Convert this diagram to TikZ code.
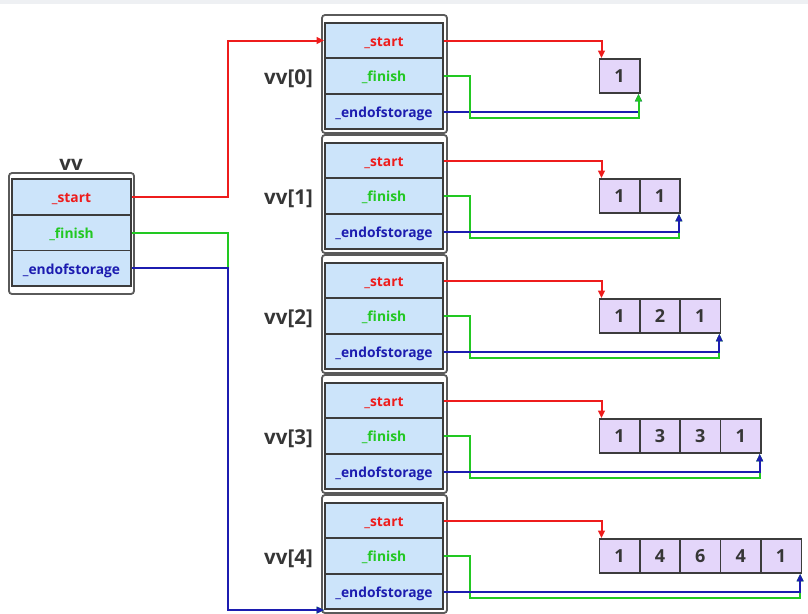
\documentclass[tikz,border=0pt]{standalone}
\usepackage{fontspec}
\setmainfont{Open Sans}
\usetikzlibrary{arrows.meta,calc}
\definecolor{topgray}{HTML}{EEF0F3}
\definecolor{cellblue}{HTML}{CCE4FA}
\definecolor{arrfill}{HTML}{E4D6FA}
\definecolor{celldark}{HTML}{3C3C3C}
\definecolor{outergray}{HTML}{5A5A5A}
\definecolor{cred}{HTML}{EE1C1C}
\definecolor{cgreen}{HTML}{22C822}
\definecolor{cblue}{HTML}{1C1CB0}
\definecolor{txtgray}{HTML}{363636}
\begin{document}
\begin{tikzpicture}[x=1pt,y=-1pt,
  outerbox/.style={draw=outergray, line width=1.8pt, rounded corners=3pt, fill=white, inner sep=0pt},
  cell/.style={draw=celldark, line width=1.6pt, fill=cellblue, minimum width=118pt, minimum height=35.5pt, inner sep=0pt, text height=13.5pt, text depth=2pt, font=\bfseries\fontsize{13.8}{14}\selectfont},
  arrcell/.style={draw=celldark, line width=1.6pt, fill=arrfill, minimum width=40.4pt, minimum height=34pt, inner sep=0pt, text=txtgray, font=\bfseries\fontsize{18}{19}\selectfont},
  lbl/.style={text=txtgray, font=\bfseries\fontsize{20.5}{21}\selectfont, inner sep=0pt},
  tip/.style={-{Triangle[length=7.5pt,width=6.5pt]}},
  rl/.style={draw=cred, line width=2pt, tip},
  gl/.style={draw=cgreen, line width=2pt, tip},
  bl/.style={draw=cblue, line width=2pt, tip}
]
\useasboundingbox (0,0) rectangle (808,613);
\fill[topgray] (0,0) rectangle (808,3.5);

% left vv
\node[lbl] (vvl) at (71,165) {vv};
\node[outerbox, minimum width=125pt, minimum height=121pt] (vvbox) at (71.5,233.5) {};
\node[cell, minimum width=119pt, text=cred] (vs) at (71.5,196.9) {\_start};
\node[cell, minimum width=119pt, text=cgreen] (vf) at (71.5,232.6) {\_finish};
\node[cell, minimum width=119pt, text=cblue] (ve) at (71.5,268.3) {\_endofstorage};

% vv[i]
\foreach \i/\vals in {0/{1},1/{1,1},2/{1,2,1},3/{1,3,3,1},4/{1,4,6,4,1}}{
  \pgfmathsetmacro\yo{120*\i}
  \node[outerbox, minimum width=125pt, minimum height=118pt] (box\i) at (384.5,74+\yo) {};
  \node[cell, text=cred] (s\i) at (384,40.5+\yo) {\_start};
  \node[cell, text=cgreen] (f\i) at (384,76+\yo) {\_finish};
  \node[cell, text=cblue] (e\i) at (384,111.5+\yo) {\_endofstorage};
  \node[lbl] (l\i) at (288.5,78.5+\yo) {vv[\i]};
  \foreach \v [count=\k] in \vals {
    \node[arrcell] (a\i-\k) at (619.5+40.4*\k-40.4,76+\yo) {\v};
  }
}

% connectors of vv[i]
\foreach \i/\n in {0/1,1/2,2/3,3/4,4/5}{
  \draw[rl] (s\i.east) -| ($(a\i-1.north west)+(3,0)$);
  \ifnum\i=0
    \draw[bl] (e\i.east) -| ($(a\i-\n.south east)+(-2,0)$);
    \draw[gl] (f\i.east) -- ++(26,0) -- ++(0,42) -| ($(a\i-\n.south east)+(-2,0)$);
  \else
    \draw[gl] (f\i.east) -- ++(26,0) -- ++(0,42) -| ($(a\i-\n.south east)+(-2,0)$);
    \draw[bl] (e\i.east) -| ($(a\i-\n.south east)+(-2,0)$);
  \fi
}

% connectors of vv
\draw[rl] (vs.east) -- ++(96,0) |- (s0.west);
\draw[gl] (vf.east) -- ++(96,0) |- (e4.south west);
\draw[bl] (ve.east) -- ++(96,0) |- (e4.south west);
\end{tikzpicture}
\end{document}
